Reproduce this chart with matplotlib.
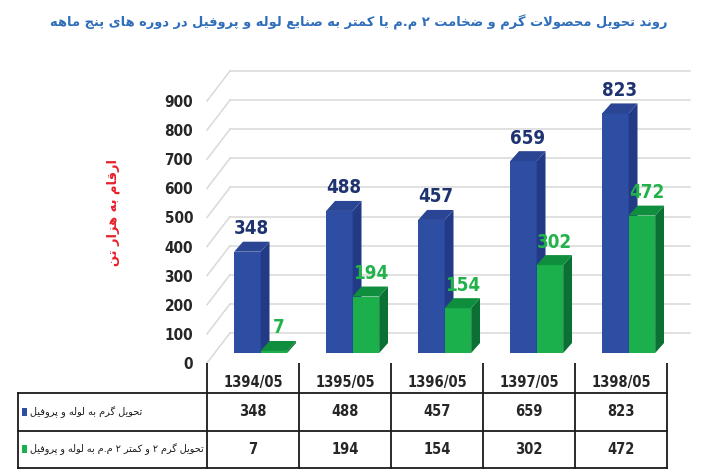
import numpy as np
import matplotlib.pyplot as plt
from matplotlib.patches import Polygon, Rectangle

# data
periods = ['1394/05', '1395/05', '1396/05', '1397/05', '1398/05']
hot_pipe = [348, 488, 457, 659, 823]
thin_pipe = [7, 194, 154, 302, 472]
series_names = ['تحویل گرم به لوله و پروفیل',
                'تحویل گرم ۲ و کمتر ۲ م.م به لوله و پروفیل']
yticks = [0, 100, 200, 300, 400, 500, 600, 700, 800, 900]
title = 'روند تحویل محصولات گرم و ضخامت ۲ م.م یا کمتر به صنایع لوله و پروفیل در دوره های پنج ماهه'
ylabel = 'ارقام به هزار تن'

# matplotlib has no arabic shaping, so pick the joined glyph forms by hand
FORMS = {  # isolated, final, initial, medial
    'ا': (0xFE8D, 0xFE8E, None, None),
    'آ': (0xFE81, 0xFE82, None, None),
    'ب': (0xFE8F, 0xFE90, 0xFE91, 0xFE92),
    'پ': (0xFB56, 0xFB57, 0xFB58, 0xFB59),
    'ت': (0xFE95, 0xFE96, 0xFE97, 0xFE98),
    'ج': (0xFE9D, 0xFE9E, 0xFE9F, 0xFEA0),
    'چ': (0xFB7A, 0xFB7B, 0xFB7C, 0xFB7D),
    'ح': (0xFEA1, 0xFEA2, 0xFEA3, 0xFEA4),
    'خ': (0xFEA5, 0xFEA6, 0xFEA7, 0xFEA8),
    'د': (0xFEA9, 0xFEAA, None, None),
    'ر': (0xFEAD, 0xFEAE, None, None),
    'ز': (0xFEAF, 0xFEB0, None, None),
    'س': (0xFEB1, 0xFEB2, 0xFEB3, 0xFEB4),
    'ص': (0xFEB9, 0xFEBA, 0xFEBB, 0xFEBC),
    'ض': (0xFEBD, 0xFEBE, 0xFEBF, 0xFEC0),
    'ع': (0xFEC9, 0xFECA, 0xFECB, 0xFECC),
    'ف': (0xFED1, 0xFED2, 0xFED3, 0xFED4),
    'ق': (0xFED5, 0xFED6, 0xFED7, 0xFED8),
    'ک': (0xFB8E, 0xFB8F, 0xFB90, 0xFB91),
    'گ': (0xFB92, 0xFB93, 0xFB94, 0xFB95),
    'ل': (0xFEDD, 0xFEDE, 0xFEDF, 0xFEE0),
    'م': (0xFEE1, 0xFEE2, 0xFEE3, 0xFEE4),
    'ن': (0xFEE5, 0xFEE6, 0xFEE7, 0xFEE8),
    'ه': (0xFEE9, 0xFEEA, 0xFEEB, 0xFEEC),
    'و': (0xFEED, 0xFEEE, None, None),
    'ی': (0xFBFC, 0xFBFD, 0xFBFE, 0xFBFF),
}


def fa(s):
    out = []
    i = 0
    while i < len(s):
        c = s[i]
        if c not in FORMS:
            out.append(c)
            i += 1
            continue
        prev = s[i - 1] if i > 0 else ''
        link_prev = prev in FORMS and FORMS[prev][2] is not None
        if c == 'ل' and i + 1 < len(s) and s[i + 1] == 'ا':
            out.append(chr(0xFEFC if link_prev else 0xFEFB))
            i += 2
            continue
        nxt = s[i + 1] if i + 1 < len(s) else ''
        link_next = FORMS[c][2] is not None and nxt in FORMS
        iso, fin, ini, med = FORMS[c]
        if link_prev and link_next:
            g = med
        elif link_prev:
            g = fin
        elif link_next:
            g = ini
        else:
            g = iso
        out.append(chr(g))
        i += 1
    return ''.join(reversed(out))


def fit(t, px, vertical=False):
    # shrink/grow a text so its long side is px pixels
    r = fig.canvas.get_renderer()
    bb = t.get_window_extent(r)
    cur = bb.height if vertical else bb.width
    t.set_fontsize(t.get_fontsize() * px / cur)


NUM = dict(family='DejaVu Sans', fontstretch='condensed', fontweight='bold')
FA = ['DejaVu Sans']

W, H = 703, 472
fig = plt.figure(figsize=(W / 100, H / 100), dpi=100)

# plot area: front floor at y=363px, 0.2911 px per unit, columns 92 px wide
k = 262 / 900
top = 1010
ax = fig.add_axes([207 / W, (H - 363) / H, 483 / W, top * k / H])
ax.set_xlim(0, 5.25)
ax.set_ylim(0, top)
for s in ax.spines.values():
    s.set_visible(False)
ax.set_xticks([])
ax.set_yticks(yticks)
ax.set_yticklabels([str(t) for t in yticks], fontsize=11, color='#262626', **NUM)
ax.tick_params(axis='y', length=0, pad=10)

# wall depth
ddx, ddy = 23 / 92, 30 / k
grid_c = '#d9d9d9'
for t in yticks:
    ax.plot([ddx, 5 + ddx], [t + ddy, t + ddy], color=grid_c, lw=1.1, clip_on=False, zorder=1)
    ax.plot([0, ddx], [t, t + ddy], color=grid_c, lw=1.1, clip_on=False, zorder=1)

# 3d bars
w = 26.5 / 92
ox, oy = ddx / 3, ddy / 3
bx, by = ddx / 2.6, ddy / 3
styles = [('#2d4ea2', '#233b86', '#2a4594', '#1f3370'),
          ('#1bb04b', '#0a7033', '#0f8f3e', '#22b24c')]
for s_i, vals in enumerate([hot_pipe, thin_pipe]):
    front, side, topc, lab = styles[s_i]
    for i, v in enumerate(vals):
        xl = i + 0.5 + ox + (s_i - 1) * w
        xr = xl + w
        ax.add_patch(Rectangle((xl, oy), w, v, facecolor=front, edgecolor='none', zorder=3))
        ax.add_patch(Polygon([(xr, oy), (xr + bx, oy + by), (xr + bx, oy + v + by), (xr, oy + v)],
                             facecolor=side, edgecolor='none', zorder=3))
        ax.add_patch(Polygon([(xl, oy + v), (xr, oy + v), (xr + bx, oy + v + by), (xl + bx, oy + v + by)],
                             facecolor=topc, edgecolor='none', zorder=3))
        ax.text(xl + w / 2 + bx / 2, oy + v + by + 12, str(v), ha='center', va='bottom',
                fontsize=13.5, color=lab, zorder=4, **NUM)

tt = fig.text(359 / W, 1 - 22 / H, fa(title), ha='center', va='center', family=FA,
              fontsize=12, fontweight='bold', color='#2f6eba')
fit(tt, 615)
yl = fig.text(113 / W, 1 - 213 / H, fa(ylabel), ha='center', va='center', rotation=90,
              family=FA, fontsize=9, fontweight='bold', color='#e8202a')
fit(yl, 107, vertical=True)

# data table under the chart
tab = fig.add_axes([0, 0, 1, (H - 363) / H])
tab.set_xlim(-207 / 92, (W - 207) / 92)
tab.set_ylim(H - 363, 0)
tab.axis('off')
line_c = '#1a1a1a'
left = (18 - 207) / 92
for j in range(len(periods) + 1):
    tab.plot([j, j], [0, 105], color=line_c, lw=1.3)
tab.plot([left, left], [30, 105], color=line_c, lw=1.3)
for yy in [30, 68, 105]:
    tab.plot([left, len(periods)], [yy, yy], color=line_c, lw=1.3)

for j, p in enumerate(periods):
    tab.text(j + 0.5, 20, p, ha='center', va='center', fontsize=10.5, color='#262626', **NUM)
    tab.text(j + 0.5, 49, str(hot_pipe[j]), ha='center', va='center',
             fontsize=10.5, color='#262626', **NUM)
    tab.text(j + 0.5, 86, str(thin_pipe[j]), ha='center', va='center',
             fontsize=10.5, color='#262626', **NUM)

for r, (name, yy, wpx) in enumerate(zip(series_names, [49, 86], [113, 175])):
    tab.add_patch(Rectangle(((22 - 207) / 92, yy - 4), 5 / 92, 8, facecolor=styles[r][0],
                            edgecolor='none'))
    rl = tab.text((30 - 207) / 92, yy, fa(name), ha='left', va='center', family=FA,
                  fontsize=8, color='#1a1a1a')
    fit(rl, wpx)

fig.savefig('out.png', dpi=100)
